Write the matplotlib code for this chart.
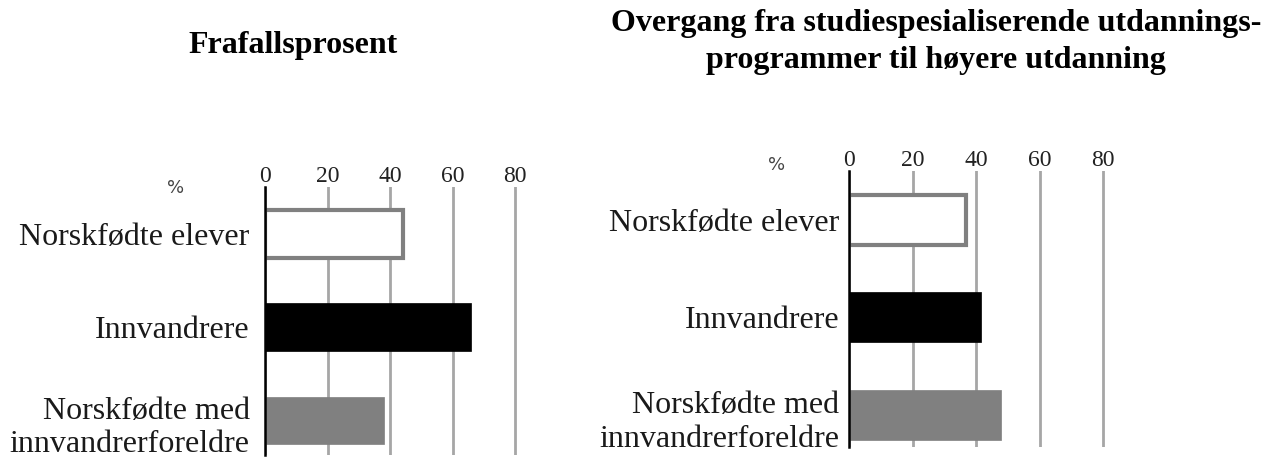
import matplotlib
matplotlib.use("Agg")
import matplotlib.pyplot as plt
import matplotlib.transforms as mtrans

# --- data
categories = ["Norskfødte elever", "Innvandrere", "Norskfødte med\ninnvandrerforeldre"]
frafall = [44, 66, 38]          # Frafallsprosent
overgang = [37, 41.5, 48]       # Overgang til høyere utdanning
ticks = [0, 20, 40, 60, 80]

face = ["white", "black", "#808080"]
edge = ["#808080", "black", "#808080"]
lw = [3.0, 0.5, 0.5]

plt.rcParams['font.family'] = ['Liberation Serif', 'DejaVu Serif']

W, H = 1264, 461
fig = plt.figure(figsize=(W / 100, H / 100), dpi=100)


def make_ax(left, top, bottom, px_per_unit, ylim, vals, pct_xy, pad, shift):
    width = 82 * px_per_unit
    ax = fig.add_axes([left / W, (H - bottom) / H, width / W, (bottom - top) / H])
    y = range(len(categories))
    ax.barh(y, vals, height=0.51, color=face, edgecolor=edge, linewidth=lw, zorder=3)
    ax.set_xlim(0, 82); ax.set_ylim(*ylim)
    ax.set_xticks(ticks); ax.set_xticklabels([str(t) for t in ticks])
    ax.set_yticks(list(y)); ax.set_yticklabels(categories, fontsize=23, linespacing=1.2)
    ax.xaxis.tick_top()
    ax.tick_params(axis='x', length=0, labelsize=17, pad=0, colors='#222222')
    ax.tick_params(axis='y', length=0, pad=pad, colors='#1a1a1a')
    # two-line label sits a little below its bar in the original
    lab = ax.get_yticklabels()[-1]
    lab.set_transform(lab.get_transform() + mtrans.ScaledTranslation(0, -shift / 100, fig.dpi_scale_trans))
    ax.grid(axis='x', color='#a6a6a6', lw=2.0, zorder=0)
    for s in ("top", "right", "bottom"):
        ax.spines[s].set_visible(False)
    ax.spines['left'].set_linewidth(1.8); ax.spines['left'].set_zorder(4)
    fig.text(pct_xy[0] / W, 1 - pct_xy[1] / H, "%", family='DejaVu Sans', fontsize=13,
             color='#444444', ha='center', va='center')
    return ax


make_ax(265, 187, 455, 3.125, (2.37, -0.5), frafall, (176, 188), 11, 2)
make_ax(849, 171, 447, 3.175, (2.33, -0.5), overgang, (777, 165), 7, 2)

fig.text(293 / W, 1 - 45 / H, "Frafallsprosent", fontsize=23, fontweight='bold',
         ha='center', va='center')
fig.text(936 / W, 1 - 42 / H,
         "Overgang fra studiespesialiserende utdannings-\nprogrammer til høyere utdanning",
         fontsize=23, fontweight='bold', ha='center', va='center', linespacing=1.4)

fig.savefig("out.png", dpi=100)
